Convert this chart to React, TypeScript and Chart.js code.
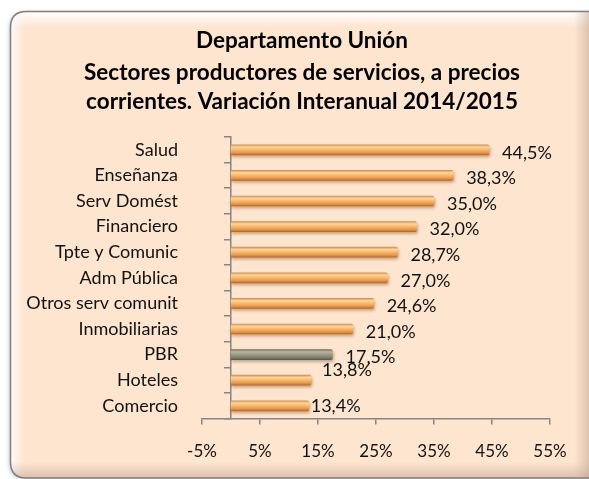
import React, { useEffect, useRef } from "react";
import { Chart, registerables } from "chart.js";

Chart.register(...registerables);

const titleLines = [
  "Departamento Unión",
  "Sectores productores de servicios, a precios",
  "corrientes. Variación Interanual 2014/2015",
];

const categories = [
  "Salud",
  "Enseñanza",
  "Serv Domést",
  "Financiero",
  "Tpte y Comunic",
  "Adm Pública",
  "Otros serv comunit",
  "Inmobiliarias",
  "PBR",
  "Hoteles",
  "Comercio",
];

const values = [44.5, 38.3, 35.0, 32.0, 28.7, 27.0, 24.6, 21.0, 17.5, 13.8, 13.4];

const xTickValues = [-5, 5, 15, 25, 35, 45, 55];

// label nudges (dx after bar end, dy from bar centre) — style only
const labelNudges: Record<string, [number, number]> = {
  Hoteles: [11, -10],
  Comercio: [2, 0],
};

const W = 589;
const H = 479;
const FONT = "Lato, 'Open Sans', sans-serif";
const BAR_T = 10;
const AXIS_GREY = "#868686";

function fmt(v: number) {
  return v.toFixed(1).replace(".", ",") + "%";
}

function roundRectPath(ctx: CanvasRenderingContext2D, x: number, y: number, w: number, h: number, r: number) {
  ctx.beginPath();
  ctx.moveTo(x + r, y);
  ctx.lineTo(x + w - r, y);
  ctx.quadraticCurveTo(x + w, y, x + w, y + r);
  ctx.lineTo(x + w, y + h - r);
  ctx.quadraticCurveTo(x + w, y + h, x + w - r, y + h);
  ctx.lineTo(x + r, y + h);
  ctx.quadraticCurveTo(x, y + h, x, y + h - r);
  ctx.lineTo(x, y + r);
  ctx.quadraticCurveTo(x, y, x + r, y);
  ctx.closePath();
}

const backgroundPlugin = {
  id: "bgPanel",
  beforeDraw(chart: any) {
    const ctx: CanvasRenderingContext2D = chart.ctx;
    ctx.save();
    ctx.fillStyle = "#ffffff";
    ctx.fillRect(0, 0, W, H);
    const bx = 10.5, by = 11.5, bw = 600, bh = 466.5, br = 16;
    ctx.save();
    ctx.shadowColor = "rgba(0,0,0,0.25)";
    ctx.shadowBlur = 4;
    ctx.shadowOffsetX = -1;
    ctx.shadowOffsetY = 1;
    roundRectPath(ctx, bx, by, bw, bh, br);
    ctx.fillStyle = "#fde5cf";
    ctx.fill();
    ctx.restore();
    ctx.save();
    roundRectPath(ctx, bx, by, bw, bh, br);
    ctx.clip();
    let g = ctx.createLinearGradient(0, by, 0, by + 16);
    g.addColorStop(0, "rgba(255,255,255,1)");
    g.addColorStop(1, "rgba(255,255,255,0)");
    ctx.fillStyle = g;
    ctx.fillRect(bx, by, bw, 16);
    g = ctx.createLinearGradient(bx, 0, bx + 14, 0);
    g.addColorStop(0, "rgba(255,255,255,0.8)");
    g.addColorStop(1, "rgba(255,255,255,0)");
    ctx.fillStyle = g;
    ctx.fillRect(bx, by, 14, bh);
    g = ctx.createLinearGradient(0, 462, 0, 478);
    g.addColorStop(0, "rgba(200,170,150,0)");
    g.addColorStop(1, "rgba(190,160,140,0.55)");
    ctx.fillStyle = g;
    ctx.fillRect(bx, 462, bw, 17);
    g = ctx.createLinearGradient(574, 0, 589, 0);
    g.addColorStop(0, "rgba(200,170,150,0)");
    g.addColorStop(1, "rgba(190,160,140,0.5)");
    ctx.fillStyle = g;
    ctx.fillRect(574, by, 15, bh);
    ctx.restore();
    roundRectPath(ctx, bx, by, bw, bh, br);
    ctx.strokeStyle = "#7f7f7f";
    ctx.lineWidth = 1.5;
    ctx.stroke();
    ctx.fillStyle = "#000000";
    ctx.font = `bold 22.5px ${FONT}`;
    ctx.textAlign = "center";
    ctx.textBaseline = "middle";
    const ys = [41, 73, 102];
    titleLines.forEach((t, i) => ctx.fillText(t, 302, ys[i]));
    ctx.restore();
  },
};

function barGradient(ctx: CanvasRenderingContext2D, top: number, bottom: number, grey: boolean) {
  const g = ctx.createLinearGradient(0, top, 0, bottom);
  if (grey) {
    g.addColorStop(0, "#74735f");
    g.addColorStop(0.22, "#b9b7a2");
    g.addColorStop(0.5, "#9b9984");
    g.addColorStop(0.8, "#807e6a");
    g.addColorStop(1, "#5e5d4e");
  } else {
    g.addColorStop(0, "#dc8f47");
    g.addColorStop(0.22, "#fcd898");
    g.addColorStop(0.5, "#f8b86c");
    g.addColorStop(0.8, "#e8954a");
    g.addColorStop(1, "#b96b30");
  }
  return g;
}

const shadowPlugin = {
  id: "barShadow",
  beforeDatasetsDraw(chart: any) {
    const ctx = chart.ctx;
    ctx.save();
    ctx.shadowColor = "rgba(90,50,20,0.35)";
    ctx.shadowBlur = 3;
    ctx.shadowOffsetX = 1;
    ctx.shadowOffsetY = 2;
  },
  afterDatasetsDraw(chart: any) {
    chart.ctx.restore();
  },
};

const valueLabelPlugin = {
  id: "valueLabels",
  afterDraw(chart: any) {
    const ctx: CanvasRenderingContext2D = chart.ctx;
    const meta = chart.getDatasetMeta(0);
    ctx.save();
    ctx.font = `18px ${FONT}`;
    ctx.fillStyle = "#111111";
    ctx.textAlign = "left";
    ctx.textBaseline = "middle";
    meta.data.forEach((bar: any, i: number) => {
      const cat = categories[i];
      const [dx, dy] = labelNudges[cat] || [13, 3];
      ctx.fillText(fmt(values[i]), bar.x + dx, bar.y + dy);
    });
    ctx.restore();
  },
};

export default function App() {
  const ref = useRef<HTMLCanvasElement | null>(null);
  useEffect(() => {
    document.body.style.margin = "0";
    const canvas = ref.current!;
    const chart = new Chart(canvas, {
      type: "bar",
      data: {
        labels: categories,
        datasets: [
          {
            data: values,
            yAxisID: "y",
            barThickness: BAR_T,
            borderWidth: 0,
            borderRadius: 2,
            borderSkipped: "start",
            backgroundColor: (c: any) => {
              const ch = c.chart;
              const ys = ch.scales && ch.scales.y;
              if (!ys || c.dataIndex === undefined) return "#f5b062";
              const cy = ys.getPixelForValue(c.dataIndex);
              if (!isFinite(cy)) return "#f5b062";
              return barGradient(ch.ctx, cy - BAR_T / 2, cy + BAR_T / 2, categories[c.dataIndex] === "PBR");
            },
          },
        ],
      },
      options: {
        indexAxis: "y",
        animation: false,
        responsive: false,
        devicePixelRatio: 1,
        layout: { padding: { left: 10, right: 39, top: 137, bottom: 0 } },
        plugins: {
          legend: { display: false },
          title: { display: false },
          tooltip: { enabled: false },
        },
        scales: {
          x: {
            type: "linear",
            min: -5,
            max: 55,
            afterBuildTicks: (scale: any) => {
              scale.ticks = xTickValues.map((v) => ({ value: v }));
            },
            grid: {
              drawOnChartArea: false,
              drawTicks: true,
              tickLength: 6,
              color: AXIS_GREY,
              lineWidth: 1.5,
            },
            border: { display: true, color: AXIS_GREY, width: 1.5 },
            ticks: {
              padding: 17,
              color: "#111111",
              font: { family: FONT, size: 17 },
              callback: (v: any) => `${v}%`,
            },
          },
          y: {
            type: "category",
            position: "left",
            afterFit: (scale: any) => {
              scale.width = 192;
            },
            grid: { display: false, drawTicks: false },
            border: { display: false },
            ticks: {
              autoSkip: false,
              padding: 24,
              color: "#111111",
              font: { family: FONT, size: 18 },
            },
          },
          yAxisLine: {
            type: "category",
            axis: "y",
            labels: categories,
            position: { x: 0 } as any,
            offset: true,
            grid: {
              offset: true,
              drawOnChartArea: false,
              drawTicks: true,
              tickLength: 6,
              color: AXIS_GREY,
              lineWidth: 1.5,
            },
            border: { display: true, color: AXIS_GREY, width: 1.5 },
            ticks: { display: false, autoSkip: false },
          },
        },
      },
      plugins: [backgroundPlugin, shadowPlugin, valueLabelPlugin],
    } as any);
    return () => chart.destroy();
  }, []);
  return (
    <div style={{ width: W, height: H }}>
      <canvas ref={ref} width={W} height={H} style={{ width: W, height: H, display: "block" }} />
    </div>
  );
}
